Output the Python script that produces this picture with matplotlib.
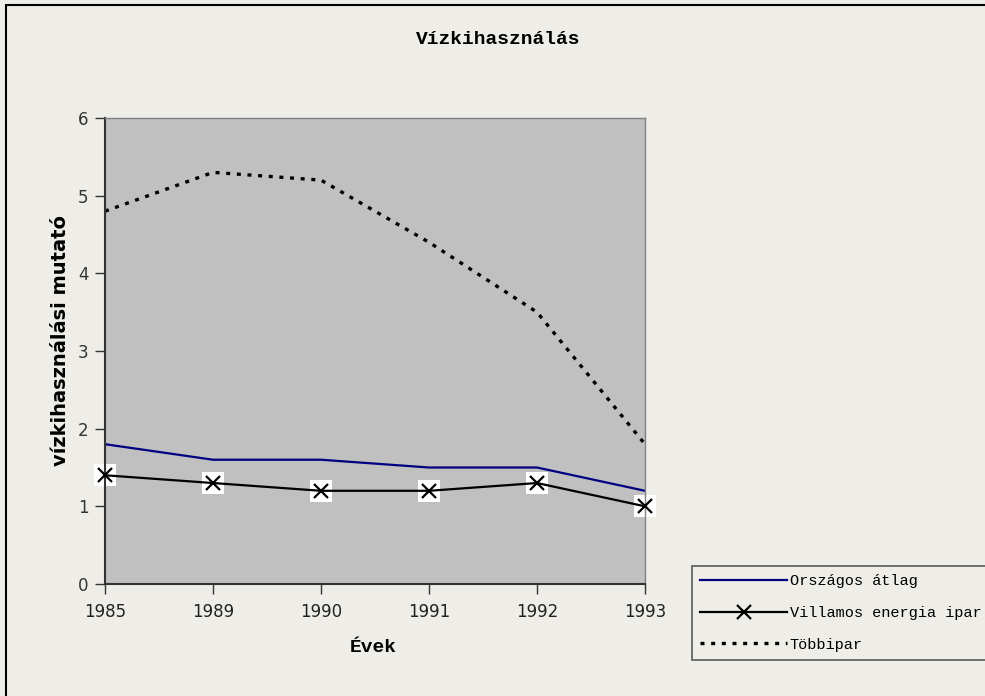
import matplotlib
matplotlib.use("Agg")
import matplotlib.pyplot as plt
from matplotlib.patches import Rectangle

years = ["1985", "1989", "1990", "1991", "1992", "1993"]
orszagos = [1.8, 1.6, 1.6, 1.5, 1.5, 1.2]
villamos = [1.4, 1.3, 1.2, 1.2, 1.3, 1.0]
tobbipar = [4.8, 5.3, 5.2, 4.4, 3.5, 1.8]
yticks = [0, 1, 2, 3, 4, 5, 6]

W, H = 985, 696
fig = plt.figure(figsize=(W / 100, H / 100), dpi=100)
bg = "#EEEDE8"
fig.patch.set_facecolor(bg)

# outer chart-area border
fig.patches.append(Rectangle((6 / W, -0.1), 1.2, 1 - 5 / H + 0.1, transform=fig.transFigure,
                             fill=False, edgecolor="black", linewidth=1.5))

ax = fig.add_axes([105 / W, 1 - 584 / H, 540 / W, 466 / H])
ax.set_facecolor("#C0C0C0")
x = list(range(len(years)))

ax.plot(x, orszagos, color="#000080", linewidth=1.6, label="Országos átlag")
ax.plot(x, villamos, color="black", linewidth=1.6, marker="x", markersize=10,
        markeredgewidth=1.6, label="Villamos energia ipar", zorder=3, clip_on=False)
# white squares behind markers
ax.scatter(x, villamos, marker="s", s=260, color="white", zorder=2.5, linewidths=0, clip_on=False)
ax.plot(x, tobbipar, color="black", linewidth=2.4, linestyle=(0, (1.2, 2.0)), label="Többipar")

ax.set_xlim(0, len(years) - 1)
ax.set_ylim(0, 6)
ax.set_xticks(x)
ax.set_xticklabels(years, family="DejaVu Sans", fontsize=12, color="#222222")
ax.set_yticks(yticks)
ax.set_yticklabels([str(v) for v in yticks], family="DejaVu Sans", fontsize=12, color="#333333")
ax.tick_params(axis="both", direction="out", length=7, width=1, color="#333333")
ax.tick_params(axis="x", pad=7)
ax.tick_params(axis="y", pad=5)
for s in ["top", "right"]:
    ax.spines[s].set_color("#808080")
    ax.spines[s].set_linewidth(1)
for s in ["left", "bottom"]:
    ax.spines[s].set_color("#333333")
    ax.spines[s].set_linewidth(1.5)

fig.text(498 / W, 1 - 40 / H, "Vízkihasználás", ha="center", va="center",
         family="Liberation Mono", fontweight="bold", fontsize=14)
fig.text(373 / W, 1 - 648 / H, "Évek", ha="center", va="center",
         family="Liberation Mono", fontweight="bold", fontsize=14)
fig.text(60 / W, 1 - 340 / H, "vízkihasználási mutató", ha="center", va="center",
         rotation=90, family="DejaVu Sans", fontweight="bold", fontsize=14)

leg = fig.legend(loc="upper left", bbox_to_anchor=(692 / W, 1 - 566 / H),
                 prop={"family": "Liberation Mono", "size": 11},
                 frameon=True, fancybox=False, edgecolor="#333333", facecolor=bg,
                 handlelength=5.7, handletextpad=0.15, borderpad=0.55, labelspacing=1.15,
                 borderaxespad=0)
leg.get_frame().set_linewidth(1.2)

fig.savefig("out.png", dpi=100, facecolor=bg)
